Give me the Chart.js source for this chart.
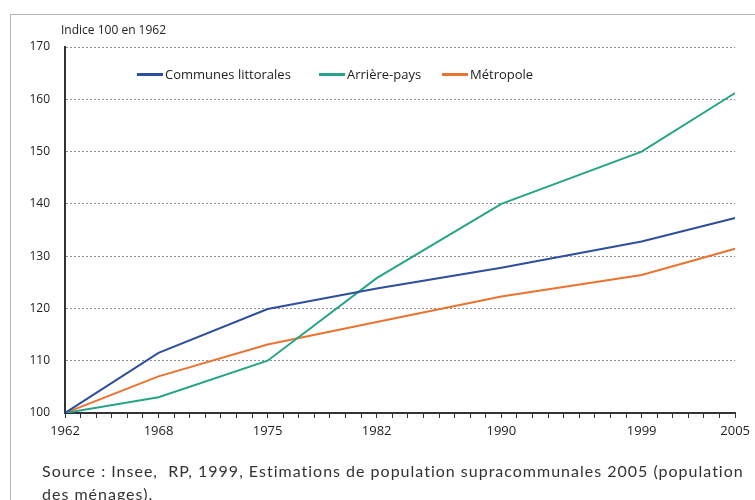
<!DOCTYPE html>
<html>
<head>
<meta charset="utf-8">
<script src="https://cdn.jsdelivr.net/npm/chart.js@4/dist/chart.umd.min.js"></script>
<style>
	html, body { margin: 0; padding: 0; background: #fff; }
	#wrap { position: relative; width: 755px; height: 500px; overflow: hidden; font-family: "Open Sans", sans-serif; color: #222; }
	#frame { position: absolute; left: 10px; top: 14px; width: 760px; height: 500px; border-left: 1px solid #b5b5b5; border-top: 1px solid #b5b5b5; }
	#chart-box { position: absolute; left: 0; top: 0; width: 755px; height: 500px; }
	#unit { position: absolute; left: 61px; top: 21px; font-size: 12px; }
	#legend { position: absolute; left: 0; top: 65px; font-size: 13px; }
	.lg { position: absolute; white-space: nowrap; }
	.lg span.sw { display: inline-block; width: 26px; height: 2.5px; vertical-align: middle; margin-right: 2px; position: relative; top: -1px; }
	#source { position: absolute; left: 42px; top: 459px; font-family: Lato, sans-serif; font-size: 16px; letter-spacing: 1px; line-height: 23px; color: #333; white-space: nowrap; }
</style>
</head>
<body>
<div id="wrap">
	<div id="frame"></div>
	<div id="chart-box"><canvas id="c" width="755" height="500"></canvas></div>
	<div id="unit">Indice 100 en 1962</div>
	<div id="legend"></div>
	<div id="source">Source : Insee,&nbsp; RP, 1999, Estimations de population supracommunales 2005 (population<br>des ménages).</div>
</div>
<script>
const years = [1962, 1968, 1975, 1982, 1990, 1999, 2005];
const littorales = [100, 111.5, 119.9, 123.8, 127.8, 132.8, 137.3];
const arrierePays = [100, 103, 110, 125.8, 140, 150, 161.2];
const metropole = [100, 107, 113.1, 117.4, 122.3, 126.4, 131.4];

const seriesNames = ["Communes littorales", "Arrière-pays", "Métropole"];
const seriesColors = ["#2d4f9e", "#27a487", "#ea7330"];
const legendX = [137, 319, 442];

function pts(values) {
	return years.map((y, i) => ({ x: y, y: values[i] }));
}

// legend sits inside the plot, so it is plain html
const legend = document.getElementById("legend");
seriesNames.forEach((name, i) => {
	const d = document.createElement("div");
	d.className = "lg";
	d.style.left = legendX[i] + "px";
	d.innerHTML = `<span class="sw" style="background:${seriesColors[i]}"></span>${name}`;
	legend.appendChild(d);
});

const font = { family: "'Open Sans', sans-serif", size: 12 };

new Chart(document.getElementById("c"), {
	type: "line",
	data: {
		datasets: [littorales, arrierePays, metropole].map((vals, i) => ({
			label: seriesNames[i],
			data: pts(vals),
			borderColor: seriesColors[i],
			backgroundColor: seriesColors[i],
			borderWidth: 2,
			pointRadius: 0,
			tension: 0,
		})),
	},
	options: {
		responsive: false,
		animation: false,
		layout: { padding: { top: 47, right: 16, bottom: 57, left: 0 } },
		plugins: { legend: { display: false }, tooltip: { enabled: false } },
		scales: {
			x: {
				type: "linear",
				min: 1962,
				max: 2005,
				afterFit: (s) => { s.height = 30; },
				afterBuildTicks: (s) => {
					const t = [];
					for (let y = 1962; y <= 2005; y++) t.push({ value: y });
					s.ticks = t;
				},
				grid: { drawOnChartArea: false, drawTicks: true, tickLength: 5, color: "#333", lineWidth: 1 },
				border: { display: true, color: "#333", width: 2 },
				ticks: {
					autoSkip: false,
					maxRotation: 0,
					padding: 5,
					color: "#222",
					font: { family: font.family, size: 13 },
					callback: (v) => (years.includes(v) ? String(v) : ""),
				},
			},
			y: {
				min: 100,
				max: 170,
				afterFit: (s) => { s.width = 65; },
				grid: {
					drawTicks: false,
					color: (ctx) => (ctx.tick && ctx.tick.value === 100 ? "rgba(0,0,0,0)" : "#8f8f8f"),
					lineWidth: 1,
				},
				// in v4 the grid line dash lives on border
				border: { display: true, color: "#333", width: 2, dash: [2, 2] },
				ticks: { stepSize: 10, padding: 15, color: "#222", font: font },
			},
		},
	},
});
</script>
</body>
</html>
